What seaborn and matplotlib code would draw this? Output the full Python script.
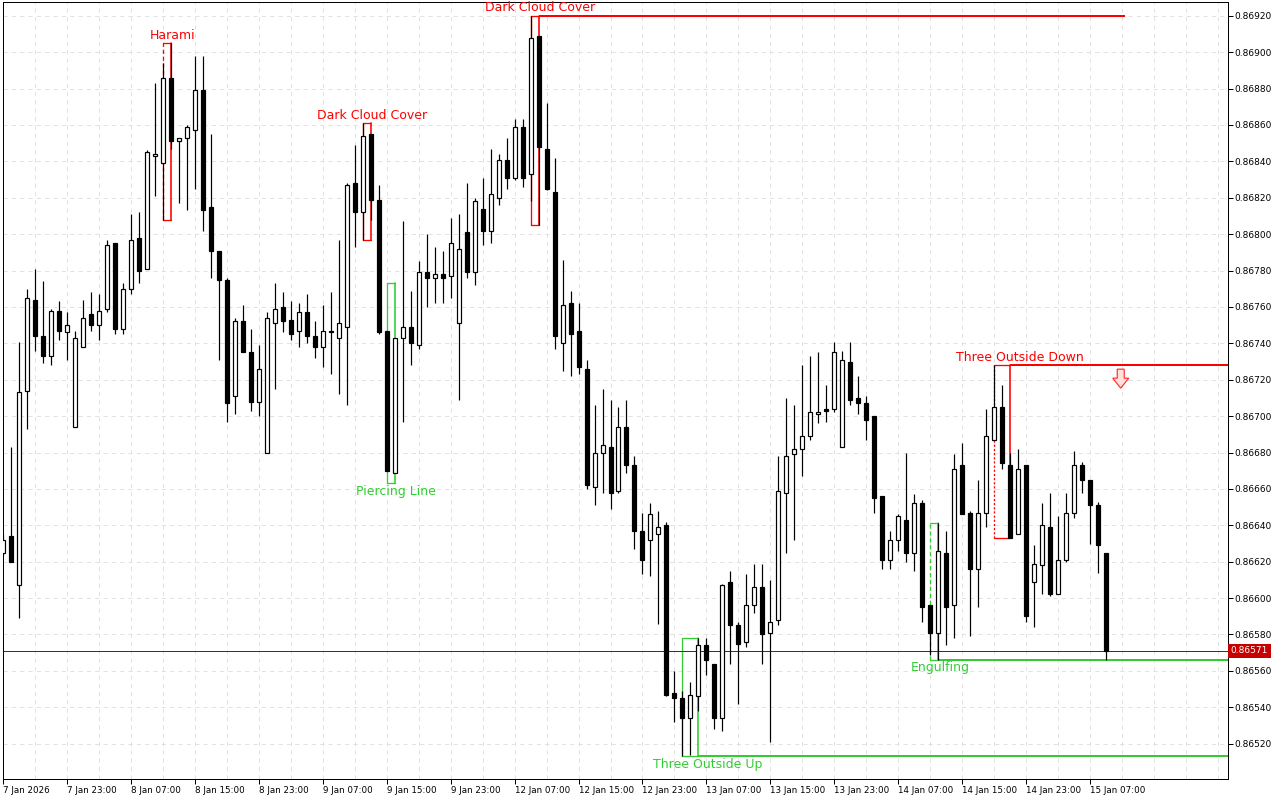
import numpy as np
import pandas as pd
import matplotlib
matplotlib.use("Agg")
import matplotlib.pyplot as plt
import matplotlib.transforms as mtransforms
from matplotlib.patches import Polygon
import seaborn as sns

# H1 candles, 7 Jan 15:00 .. 15 Jan 09:00
opens = [
    0.86625, 0.86634, 0.86607, 0.86714, 0.86764, 0.86744, 0.86733, 0.86758, 0.86746, 0.86694,
    0.86738, 0.86756, 0.86750, 0.86759, 0.86795, 0.86748, 0.86770, 0.86798, 0.86781, 0.86843,
    0.86839, 0.86886, 0.86851, 0.86853, 0.86857, 0.86879, 0.86815, 0.86791, 0.86775, 0.86711,
    0.86752, 0.86735, 0.86708, 0.86680, 0.86751, 0.86760, 0.86753, 0.86747, 0.86757, 0.86744,
    0.86738, 0.86747, 0.86743, 0.86749, 0.86828, 0.86812, 0.86855, 0.86819, 0.86747, 0.86669,
    0.86743, 0.86749, 0.86739, 0.86779, 0.86776, 0.86778, 0.86777, 0.86751, 0.86801, 0.86779,
    0.86814, 0.86802, 0.86820, 0.86841, 0.86831, 0.86859, 0.86833, 0.86909, 0.86847, 0.86823,
    0.86740, 0.86762, 0.86747, 0.86726, 0.86661, 0.86680, 0.86683, 0.86659, 0.86694, 0.86673,
    0.86637, 0.86632, 0.86635, 0.86640, 0.86548, 0.86545, 0.86534, 0.86546, 0.86574, 0.86564,
    0.86534, 0.86609, 0.86585, 0.86576, 0.86596, 0.86606, 0.86581, 0.86588, 0.86658, 0.86679,
    0.86682, 0.86689, 0.86701, 0.86704, 0.86704, 0.86683, 0.86730, 0.86710, 0.86707, 0.86700,
    0.86656, 0.86621, 0.86632, 0.86643, 0.86625, 0.86652, 0.86596, 0.86581, 0.86625, 0.86596,
    0.86673, 0.86647, 0.86616, 0.86647, 0.86687, 0.86705, 0.86673, 0.86635, 0.86673, 0.86609,
    0.86618, 0.86639, 0.86602, 0.86621, 0.86647, 0.86673, 0.86665, 0.86651, 0.86625,
]
highs = [
    0.86635, 0.86683, 0.86741, 0.86770, 0.86781, 0.86774, 0.86759, 0.86763, 0.86757, 0.86747,
    0.86764, 0.86768, 0.86767, 0.86797, 0.86795, 0.86773, 0.86811, 0.86812, 0.86846, 0.86883,
    0.86894, 0.86905, 0.86853, 0.86860, 0.86898, 0.86898, 0.86855, 0.86791, 0.86776, 0.86754,
    0.86761, 0.86748, 0.86739, 0.86757, 0.86773, 0.86768, 0.86763, 0.86762, 0.86767, 0.86752,
    0.86761, 0.86768, 0.86797, 0.86828, 0.86849, 0.86861, 0.86855, 0.86827, 0.86747, 0.86743,
    0.86807, 0.86769, 0.86785, 0.86800, 0.86793, 0.86791, 0.86809, 0.86811, 0.86828, 0.86820,
    0.86831, 0.86847, 0.86844, 0.86853, 0.86863, 0.86863, 0.86920, 0.86909, 0.86872, 0.86842,
    0.86786, 0.86769, 0.86762, 0.86731, 0.86706, 0.86715, 0.86709, 0.86705, 0.86709, 0.86678,
    0.86647, 0.86652, 0.86648, 0.86642, 0.86560, 0.86549, 0.86554, 0.86578, 0.86578, 0.86564,
    0.86608, 0.86615, 0.86587, 0.86613, 0.86619, 0.86619, 0.86610, 0.86678, 0.86710, 0.86706,
    0.86728, 0.86733, 0.86735, 0.86717, 0.86741, 0.86736, 0.86741, 0.86722, 0.86711, 0.86700,
    0.86656, 0.86637, 0.86646, 0.86680, 0.86657, 0.86654, 0.86596, 0.86641, 0.86637, 0.86679,
    0.86685, 0.86648, 0.86665, 0.86704, 0.86728, 0.86717, 0.86680, 0.86682, 0.86673, 0.86629,
    0.86652, 0.86658, 0.86645, 0.86658, 0.86681, 0.86675, 0.86665, 0.86653, 0.86625,
]
lows = [
    0.86623, 0.86620, 0.86589, 0.86693, 0.86736, 0.86729, 0.86728, 0.86742, 0.86731, 0.86694,
    0.86738, 0.86747, 0.86742, 0.86757, 0.86745, 0.86745, 0.86767, 0.86773, 0.86781, 0.86821,
    0.86808, 0.86847, 0.86817, 0.86813, 0.86825, 0.86802, 0.86776, 0.86731, 0.86697, 0.86701,
    0.86735, 0.86703, 0.86700, 0.86680, 0.86715, 0.86746, 0.86742, 0.86738, 0.86740, 0.86732,
    0.86727, 0.86723, 0.86712, 0.86706, 0.86793, 0.86797, 0.86808, 0.86745, 0.86670, 0.86669,
    0.86697, 0.86728, 0.86737, 0.86760, 0.86762, 0.86762, 0.86765, 0.86709, 0.86776, 0.86772,
    0.86794, 0.86795, 0.86816, 0.86825, 0.86830, 0.86826, 0.86818, 0.86805, 0.86824, 0.86737,
    0.86725, 0.86722, 0.86723, 0.86660, 0.86651, 0.86658, 0.86649, 0.86658, 0.86669, 0.86627,
    0.86613, 0.86612, 0.86586, 0.86546, 0.86532, 0.86513, 0.86514, 0.86538, 0.86558, 0.86528,
    0.86527, 0.86564, 0.86542, 0.86573, 0.86592, 0.86564, 0.86521, 0.86585, 0.86625, 0.86632,
    0.86667, 0.86687, 0.86696, 0.86697, 0.86702, 0.86683, 0.86706, 0.86701, 0.86687, 0.86647,
    0.86616, 0.86616, 0.86626, 0.86620, 0.86615, 0.86587, 0.86569, 0.86566, 0.86574, 0.86578,
    0.86646, 0.86579, 0.86595, 0.86639, 0.86687, 0.86671, 0.86633, 0.86635, 0.86587, 0.86584,
    0.86602, 0.86601, 0.86602, 0.86620, 0.86644, 0.86658, 0.86630, 0.86614, 0.86566,
]
closes = [
    0.86632, 0.86620, 0.86713, 0.86765, 0.86744, 0.86733, 0.86758, 0.86747, 0.86750, 0.86743,
    0.86754, 0.86750, 0.86758, 0.86794, 0.86748, 0.86770, 0.86797, 0.86780, 0.86845, 0.86844,
    0.86886, 0.86851, 0.86853, 0.86859, 0.86879, 0.86813, 0.86791, 0.86775, 0.86707, 0.86752,
    0.86735, 0.86708, 0.86726, 0.86754, 0.86759, 0.86752, 0.86745, 0.86757, 0.86744, 0.86738,
    0.86747, 0.86746, 0.86751, 0.86827, 0.86812, 0.86854, 0.86819, 0.86746, 0.86670, 0.86743,
    0.86749, 0.86740, 0.86779, 0.86776, 0.86778, 0.86776, 0.86795, 0.86792, 0.86779, 0.86818,
    0.86802, 0.86822, 0.86841, 0.86831, 0.86859, 0.86831, 0.86908, 0.86848, 0.86825, 0.86744,
    0.86761, 0.86745, 0.86727, 0.86662, 0.86680, 0.86684, 0.86658, 0.86694, 0.86673, 0.86637,
    0.86621, 0.86646, 0.86639, 0.86547, 0.86545, 0.86534, 0.86547, 0.86574, 0.86566, 0.86534,
    0.86607, 0.86585, 0.86575, 0.86596, 0.86606, 0.86580, 0.86587, 0.86659, 0.86678, 0.86682,
    0.86689, 0.86702, 0.86702, 0.86703, 0.86735, 0.86731, 0.86709, 0.86707, 0.86698, 0.86655,
    0.86621, 0.86632, 0.86645, 0.86625, 0.86652, 0.86595, 0.86581, 0.86626, 0.86595, 0.86671,
    0.86646, 0.86616, 0.86647, 0.86689, 0.86705, 0.86674, 0.86633, 0.86671, 0.86590, 0.86619,
    0.86640, 0.86602, 0.86621, 0.86647, 0.86673, 0.86665, 0.86651, 0.86629, 0.86571,
]

time_labels = ["7 Jan 2026", "7 Jan 23:00", "8 Jan 07:00", "8 Jan 15:00", "8 Jan 23:00",
               "9 Jan 07:00", "9 Jan 15:00", "9 Jan 23:00", "12 Jan 07:00", "12 Jan 15:00",
               "12 Jan 23:00", "13 Jan 07:00", "13 Jan 15:00", "13 Jan 23:00", "14 Jan 07:00",
               "14 Jan 15:00", "14 Jan 23:00", "15 Jan 07:00"]
price_levels = [0.86520, 0.86540, 0.86560, 0.86580, 0.86600, 0.86620, 0.86640, 0.86660,
                0.86680, 0.86700, 0.86720, 0.86740, 0.86760, 0.86780, 0.86800, 0.86820,
                0.86840, 0.86860, 0.86880, 0.86900, 0.86920]

# candlestick patterns found by the indicator
pattern_names = ["Harami", "Dark Cloud Cover", "Dark Cloud Cover", "Piercing Line",
                 "Three Outside Up", "Engulfing", "Three Outside Down"]
pattern_first = [20, 45, 66, 48, 85, 116, 124]
pattern_last = [21, 46, 67, 49, 87, 117, 126]
pattern_high = [0.86905, 0.86861, 0.86920, 0.86773, 0.86578, 0.86641, 0.86728]
pattern_low = [0.86808, 0.86797, 0.86805, 0.86663, 0.86513, 0.86566, 0.86633]
pattern_bullish = [False, False, False, True, True, True, False]

last_price = 0.86571

sns.set_theme(style="white")
plt.rcParams["font.family"] = ["DejaVu Sans"]
plt.rcParams["lines.scale_dashes"] = False

PX = 0.72  # one pixel in points
RED = "#ff0000"
GREEN = "#32cd32"

df = pd.DataFrame({"open": opens, "high": highs, "low": lows, "close": closes})
df["x"] = np.arange(len(df))
df["up"] = df["close"] >= df["open"]
df["body_lo"] = df[["open", "close"]].min(axis=1)
df["body_h"] = (df["close"] - df["open"]).abs().clip(lower=0.000004)
n = len(df)

fig = plt.figure(figsize=(12.8, 8), dpi=100)
ax = fig.add_axes([2.7 / 1280, 20.7 / 800, 1225 / 1280, 777.6 / 800])
x_right = 153.175
ax.set_xlim(0.05, x_right)
ax.set_ylim(0.8650043, 0.8692773)
ax.set_facecolor("white")

# grid
for gx in range(0, 156, 4):
    ax.axvline(gx, color="#e2e2e2", lw=PX, ls=(0, (3, 3)), zorder=0)
for gy in price_levels:
    ax.axhline(gy, color="#e2e2e2", lw=PX, ls=(0, (3, 3)), zorder=0)

# pattern boxes + levels
left_styles = [(0, (3, 2)), "-", "-", "-", "-", (0, (3, 2)), (0, (1.5, 1.5))]
level_end = [np.nan, np.nan, n + 1.3, np.nan, x_right, x_right, x_right]
for i, name in enumerate(pattern_names):
    a, b = pattern_first[i], pattern_last[i]
    hi, lo = pattern_high[i], pattern_low[i]
    col = GREEN if pattern_bullish[i] else RED
    ax.plot([a, b], [hi, hi], color=col, lw=PX * 1.3, zorder=2)
    ax.plot([a, b], [lo, lo], color=col, lw=PX * 1.3, zorder=2)
    ax.plot([a, a], [lo, hi], color=col, lw=PX * 1.3, ls=left_styles[i], zorder=2)
    ax.plot([b, b], [lo, hi], color=col, lw=PX * 1.6, zorder=2)
    lvl = lo if pattern_bullish[i] else hi
    if not np.isnan(level_end[i]):
        ax.plot([b, level_end[i]], [lvl, lvl], color=col, lw=PX * 2, zorder=2,
                solid_capstyle="butt")
    lx = b + (b - a - 1) + 0.2
    dy = -8 if pattern_bullish[i] else 8
    ax.annotate(name, xy=(lx, lvl), xytext=(0, dy), textcoords="offset pixels",
                ha="center", va="center", color=col, fontsize=9, zorder=6)

# current price line
ax.axhline(last_price, color="#b00000", lw=PX, zorder=2.5)

# candles
ax.vlines(df["x"], df["low"], df["high"], color="black", lw=PX * 1.2, zorder=3)
up = df[df["up"]]
dn = df[~df["up"]]
ax.bar(up["x"], up["body_h"], bottom=up["body_lo"], width=0.5, color="white",
       edgecolor="black", linewidth=PX * 1.2, zorder=4)
ax.bar(dn["x"], dn["body_h"], bottom=dn["body_lo"], width=0.5, color="black",
       edgecolor="black", linewidth=PX * 1.2, zorder=4)

# sell arrow under the Three Outside Down level
arrow_pts = [(-3.5, -4), (3.5, -4), (3.5, -13), (8, -13), (0, -23), (-8, -13), (-3.5, -13)]
arrow_tr = mtransforms.ScaledTranslation(n - 1 + 1.8, pattern_high[-1], ax.transData)
ax.add_patch(Polygon(arrow_pts, closed=True, transform=arrow_tr, facecolor="#ffe0dc",
                     edgecolor="#ff3030", lw=PX * 1.2, zorder=6))

# axes
ax.yaxis.tick_right()
ax.set_yticks(price_levels)
ax.set_yticklabels([f"{p:.5f}" for p in price_levels])
ax.set_xticks(list(range(0, 8 * len(time_labels), 8)))
ax.set_xticklabels(time_labels)
for lab in ax.get_xticklabels():
    lab.set_ha("left")
ax.tick_params(axis="y", which="both", right=True, left=False, direction="out",
               length=3.6, width=PX, labelsize=6.5, pad=1.5, colors="black")
ax.tick_params(axis="x", which="both", bottom=True, direction="out",
               length=3.6, width=PX, labelsize=6.3, pad=1.5, colors="black")
for sp in ax.spines.values():
    sp.set_color("black")
    sp.set_linewidth(PX)
ax.grid(False)

# price tag
ax.annotate(f"{last_price:.5f}", xy=(1, last_price), xycoords=("axes fraction", "data"),
            xytext=(3, 0), textcoords="offset pixels", ha="left", va="center",
            color="white", fontsize=6.5,
            bbox=dict(boxstyle="square,pad=0.3", fc="#c80000", ec="none"),
            annotation_clip=False, zorder=7)

fig.savefig("out.png", dpi=100)
